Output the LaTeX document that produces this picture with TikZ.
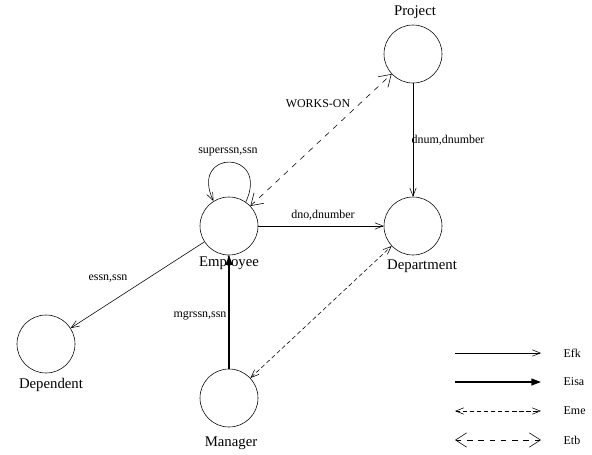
\documentclass[tikz,border=0pt]{standalone}
\usepackage{fontspec}
\setmainfont{Liberation Serif}
\usetikzlibrary{arrows.meta}

\tikzset{
  entity/.style={circle,draw,minimum size=1.45cm,inner sep=0pt},
  ename/.style={font=\fontsize{10.5}{12}\selectfont,inner sep=1pt},
  elabel/.style={font=\fontsize{8.5}{10}\selectfont,inner sep=1pt},
  efk/.style={-{Straight Barb[length=2mm,width=1.6mm]}},
  eisa/.style={line width=1.1pt,-{Triangle[length=2.4mm,width=1.7mm]}},
  eme/.style={densely dashed,{Straight Barb[length=2mm,width=1.6mm]}-{Straight Barb[length=2mm,width=1.6mm]}},
  etb/.style={dash pattern=on 4pt off 4pt,{Straight Barb[length=2.8mm,width=3.6mm]}-{Straight Barb[length=2.8mm,width=3.6mm]}}
}

\begin{document}
\begin{tikzpicture}[x=0.025cm,y=-0.025cm]
\useasboundingbox (0,0) rectangle (592,454);

% entities
\node[entity] (emp) at (229,226) {};
\node[entity] (proj) at (413,54) {};
\node[entity] (dept) at (413,226) {};
\node[entity] (dep) at (46,344) {};
\node[entity] (mgr) at (229,398) {};

\node[ename] (empname) at (229,263) {Employee};
\node[ename] (projname) at (415,12) {Project};
\node[ename] (deptname) at (422,266) {Department};
\node[ename] (depname) at (51,385) {Dependent};
\node[ename] (mgrname) at (231,443) {Manager};

% relationships
\draw[efk] (emp.55) .. controls +(65:1.45cm) and +(115:1.45cm) .. (emp.122);
\node[elabel] (selflbl) at (228,152) {superssn,ssn};
\draw[efk] (emp) -- (dept);
\node[elabel] (empdept) at (323,215) {dno,dnumber};
\draw[efk] (proj) -- (dept);
\node[elabel] (projdept) at (448,140) {dnum,dnumber};
\draw[efk] (emp) -- (dep);
\node[elabel] (empdep) at (108,279) {essn,ssn};
\draw[eisa] (mgr) -- (emp);
\node[elabel] (mgremp) at (200,316) {mgrssn,ssn};
\draw[eme] (mgr) -- (dept);
\draw[etb] (emp) -- (proj);
\node[elabel] (workson) at (318,104) {WORKS-ON};

% legend
\foreach \y/\s/\t [count=\i] in {353/efk/Efk, 382/eisa/Eisa, 411/eme/Eme, 440/etb/Etb}{
  \coordinate (k\i a) at (455,\y);
  \coordinate (k\i b) at (541,\y);
  \draw[\s] (k\i a) -- (k\i b);
  \node[elabel,anchor=west] (k\i n) at (562,\y) {\t};
}
\end{tikzpicture}
\end{document}
